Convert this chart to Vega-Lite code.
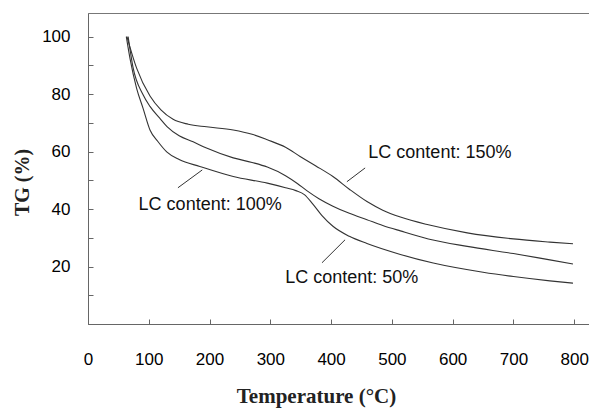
{
  "$schema": "https://vega.github.io/schema/vega-lite/v6.json",
  "width": 502,
  "height": 311,
  "autosize": {"type": "none"},
  "padding": {"left": 88, "top": 13, "right": 0, "bottom": 84},
  "background": "white",
  "config": {"view": {"stroke": "#777", "strokeWidth": 1}},
  "datasets": {
    "curves": [
      {"series": "150%", "temp": 64, "tg": 100},
      {"series": "150%", "temp": 80, "tg": 89},
      {"series": "150%", "temp": 102, "tg": 79.3},
      {"series": "150%", "temp": 120, "tg": 74.5},
      {"series": "150%", "temp": 140, "tg": 71.2},
      {"series": "150%", "temp": 165, "tg": 69.5},
      {"series": "150%", "temp": 195, "tg": 68.6},
      {"series": "150%", "temp": 239, "tg": 67.5},
      {"series": "150%", "temp": 270, "tg": 66},
      {"series": "150%", "temp": 295, "tg": 64.1},
      {"series": "150%", "temp": 325, "tg": 61.5},
      {"series": "150%", "temp": 349, "tg": 58.3},
      {"series": "150%", "temp": 375, "tg": 55},
      {"series": "150%", "temp": 403, "tg": 51.3},
      {"series": "150%", "temp": 430, "tg": 46.9},
      {"series": "150%", "temp": 459, "tg": 42.6},
      {"series": "150%", "temp": 485, "tg": 39.6},
      {"series": "150%", "temp": 514, "tg": 37.2},
      {"series": "150%", "temp": 560, "tg": 34.5},
      {"series": "150%", "temp": 624, "tg": 31.7},
      {"series": "150%", "temp": 700, "tg": 29.6},
      {"series": "150%", "temp": 760, "tg": 28.5},
      {"series": "150%", "temp": 798, "tg": 27.9},
      {"series": "100%", "temp": 66, "tg": 100},
      {"series": "100%", "temp": 74, "tg": 89.4},
      {"series": "100%", "temp": 90, "tg": 80},
      {"series": "100%", "temp": 102, "tg": 75.7},
      {"series": "100%", "temp": 118, "tg": 71.6},
      {"series": "100%", "temp": 130, "tg": 68.7},
      {"series": "100%", "temp": 150, "tg": 65.5},
      {"series": "100%", "temp": 173, "tg": 63.4},
      {"series": "100%", "temp": 195, "tg": 61.2},
      {"series": "100%", "temp": 239, "tg": 57.8},
      {"series": "100%", "temp": 270, "tg": 56.2},
      {"series": "100%", "temp": 295, "tg": 54.6},
      {"series": "100%", "temp": 325, "tg": 51.6},
      {"series": "100%", "temp": 345, "tg": 48.8},
      {"series": "100%", "temp": 360, "tg": 46.4},
      {"series": "100%", "temp": 380, "tg": 43.6},
      {"series": "100%", "temp": 403, "tg": 41},
      {"series": "100%", "temp": 430, "tg": 38.5},
      {"series": "100%", "temp": 459, "tg": 36.3},
      {"series": "100%", "temp": 485, "tg": 34.3},
      {"series": "100%", "temp": 514, "tg": 32.4},
      {"series": "100%", "temp": 560, "tg": 29.6},
      {"series": "100%", "temp": 624, "tg": 27},
      {"series": "100%", "temp": 700, "tg": 24.5},
      {"series": "100%", "temp": 760, "tg": 22.3},
      {"series": "100%", "temp": 798, "tg": 20.9},
      {"series": "50%", "temp": 63, "tg": 100},
      {"series": "50%", "temp": 69, "tg": 92.5},
      {"series": "50%", "temp": 80, "tg": 82},
      {"series": "50%", "temp": 90.5, "tg": 75.1},
      {"series": "50%", "temp": 102, "tg": 67.5},
      {"series": "50%", "temp": 115, "tg": 63.5},
      {"series": "50%", "temp": 130, "tg": 59.8},
      {"series": "50%", "temp": 150, "tg": 57.2},
      {"series": "50%", "temp": 184, "tg": 54.8},
      {"series": "50%", "temp": 239, "tg": 51.3},
      {"series": "50%", "temp": 295, "tg": 49},
      {"series": "50%", "temp": 325, "tg": 47.4},
      {"series": "50%", "temp": 342, "tg": 46.4},
      {"series": "50%", "temp": 356, "tg": 45},
      {"series": "50%", "temp": 370, "tg": 41.7},
      {"series": "50%", "temp": 385, "tg": 37.7},
      {"series": "50%", "temp": 403, "tg": 34},
      {"series": "50%", "temp": 430, "tg": 30.5},
      {"series": "50%", "temp": 459, "tg": 28},
      {"series": "50%", "temp": 514, "tg": 24.2},
      {"series": "50%", "temp": 568, "tg": 21.2},
      {"series": "50%", "temp": 650, "tg": 18},
      {"series": "50%", "temp": 700, "tg": 16.5},
      {"series": "50%", "temp": 760, "tg": 15},
      {"series": "50%", "temp": 798, "tg": 14.2}
    ],
    "leaders": [
      {"temp": 148, "tg": 47.4, "temp2": 188, "tg2": 53.6},
      {"temp": 426, "tg": 49.5, "temp2": 456, "tg2": 54.3},
      {"temp": 385, "tg": 21.3, "temp2": 423, "tg2": 29.3}
    ],
    "labels": [
      {"label": "LC content: 100%", "temp": 201, "tg": 39.6},
      {"label": "LC content: 150%", "temp": 579, "tg": 57.7},
      {"label": "LC content: 50%", "temp": 434, "tg": 14.2}
    ]
  },
  "resolve": {"axis": {"y": "independent"}},
  "layer": [
    {
      "data": {"name": "curves"},
      "mark": {"type": "line", "interpolate": "monotone", "strokeWidth": 1.1, "color": "#333"},
      "encoding": {
        "x": {
          "field": "temp", "type": "quantitative",
          "scale": {"domain": [0, 826], "nice": false, "zero": false},
          "axis": {
            "title": "Temperature (°C)",
            "values": [0, 100, 200, 300, 400, 500, 600, 700, 800],
            "grid": false, "tickSize": -5, "labelPadding": 32, "labelFlush": false, "labelOverlap": false,
            "labelFont": "Liberation Sans", "labelFontSize": 17, "labelColor": "#000",
            "domainColor": "#666", "tickColor": "#666",
            "titleFont": "Liberation Serif", "titleFontSize": 21, "titleFontWeight": "bold", "titleColor": "#222",
            "titleX": 228, "titleY": 78, "titleAlign": "center", "titleBaseline": "alphabetic", "titleAnchor": null
          }
        },
        "y": {
          "field": "tg", "type": "quantitative",
          "scale": {"domain": [0, 108.2], "nice": false},
          "axis": {
            "orient": "left",
            "title": "TG (%)",
            "values": [20, 40, 60, 80, 100],
            "grid": false, "tickSize": -5, "labelPadding": 23, "labelOverlap": false, "labelFlush": false,
            "labelFont": "Liberation Sans", "labelFontSize": 17, "labelColor": "#000",
            "domainColor": "#666", "tickColor": "#666",
            "titleFont": "Liberation Serif", "titleFontSize": 20, "titleFontWeight": "bold", "titleColor": "#222",
            "titleX": -66, "titleY": 169, "titleAngle": -90, "titleAlign": "center", "titleBaseline": "middle"
          }
        },
        "detail": {"field": "series"}
      }
    },
    {
      "data": {"name": "leaders"},
      "mark": {"type": "rule", "color": "#333", "strokeWidth": 1},
      "encoding": {
        "x": {"field": "temp", "type": "quantitative", "scale": {"domain": [0, 826], "nice": false, "zero": false}},
        "y": {
          "field": "tg", "type": "quantitative", "scale": {"domain": [0, 108.2], "nice": false},
          "axis": {"orient": "left", "title": null, "values": [10, 30, 50, 70, 90], "labels": false, "domain": false, "grid": false, "tickSize": -5, "tickColor": "#666", "offset": 0}
        },
        "x2": {"field": "temp2"},
        "y2": {"field": "tg2"}
      }
    },
    {
      "data": {"name": "labels"},
      "mark": {"type": "text", "font": "Liberation Sans", "fontSize": 18, "align": "center", "baseline": "alphabetic", "color": "#111"},
      "encoding": {
        "x": {"field": "temp", "type": "quantitative", "scale": {"domain": [0, 826], "nice": false, "zero": false}},
        "y": {"field": "tg", "type": "quantitative", "scale": {"domain": [0, 108.2], "nice": false}, "axis": null},
        "text": {"field": "label"}
      }
    }
  ]
}
